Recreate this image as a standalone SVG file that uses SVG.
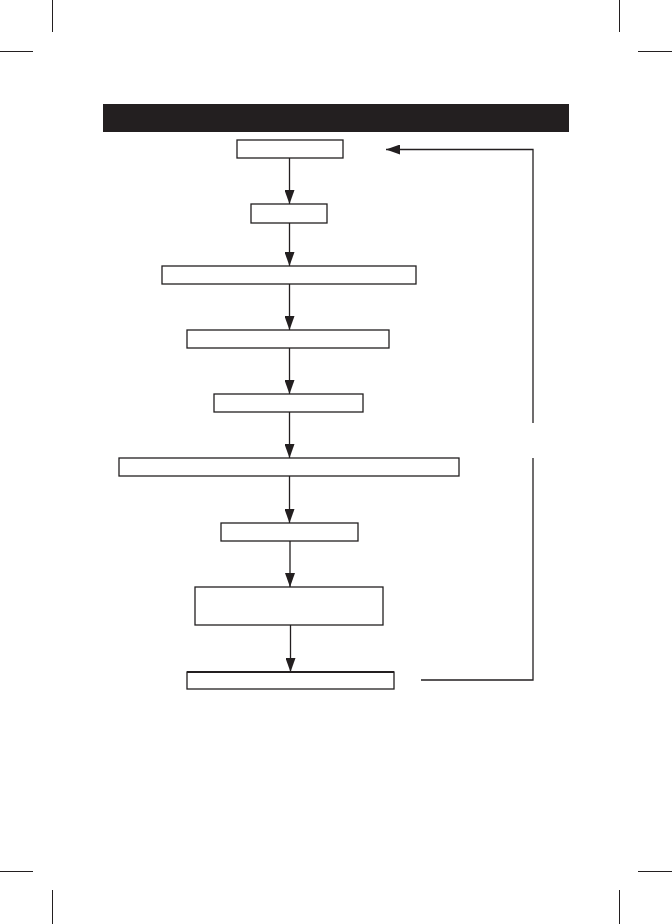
<svg xmlns="http://www.w3.org/2000/svg" width="672" height="924" viewBox="0 0 672 924">
<style>
.box{fill:#fff;stroke:#231f20;stroke-width:1.3}
.ln{fill:none;stroke:#231f20;stroke-width:1.3}
.crop{stroke:#231f20;stroke-width:1}
</style>
<defs>
<marker id="ah" markerUnits="userSpaceOnUse" markerWidth="14" markerHeight="10" refX="14" refY="5" orient="auto">
<path d="M0,0 L14,5 L0,10 Z" fill="#231f20"/>
</marker>
</defs>
<rect width="672" height="924" fill="#fff"/>
<g id="cropmarks">
<line class="crop" x1="52.5" y1="0" x2="52.5" y2="32"/>
<line class="crop" x1="0" y1="51.5" x2="33" y2="51.5"/>
<line class="crop" x1="619.5" y1="0" x2="619.5" y2="32"/>
<line class="crop" x1="638" y1="51.5" x2="672" y2="51.5"/>
<line class="crop" x1="52.5" y1="890" x2="52.5" y2="924"/>
<line class="crop" x1="0" y1="871.5" x2="33" y2="871.5"/>
<line class="crop" x1="619.5" y1="890" x2="619.5" y2="924"/>
<line class="crop" x1="638" y1="871.5" x2="672" y2="871.5"/>
</g>
<g id="header"><rect x="103" y="104" width="466" height="28" fill="#231f20"/></g>
<g id="connectors">
<line class="ln" x1="289.5" y1="158" x2="289.5" y2="204" marker-end="url(#ah)"/>
<line class="ln" x1="289.5" y1="223" x2="289.5" y2="266" marker-end="url(#ah)"/>
<line class="ln" x1="289.5" y1="284" x2="289.5" y2="330" marker-end="url(#ah)"/>
<line class="ln" x1="289.5" y1="348" x2="289.5" y2="394" marker-end="url(#ah)"/>
<line class="ln" x1="289.5" y1="412" x2="289.5" y2="458" marker-end="url(#ah)"/>
<line class="ln" x1="289.5" y1="476" x2="289.5" y2="523" marker-end="url(#ah)"/>
<line class="ln" x1="290" y1="541" x2="290" y2="587" stroke-width="2.4" marker-end="url(#ah)"/>
<line class="ln" x1="290.5" y1="625" x2="290.5" y2="672" marker-end="url(#ah)"/>
<polyline class="ln" points="533,423 533,149.5 386,149.5" marker-end="url(#ah)"/>
<polyline class="ln" points="533,458 533,680 421,680"/>
</g>
<g id="n1"><rect class="box" x="237" y="140" width="106" height="18"/></g>
<g id="n2"><rect class="box" x="251" y="204" width="76" height="19"/></g>
<g id="n3"><rect class="box" x="162" y="266" width="254" height="18"/></g>
<g id="n4"><rect class="box" x="187" y="330" width="202" height="18"/></g>
<g id="n5"><rect class="box" x="214" y="394" width="149" height="18"/></g>
<g id="n6"><rect class="box" x="119" y="458" width="340" height="18"/></g>
<g id="n7"><rect class="box" x="221" y="523" width="137" height="18"/></g>
<g id="n8"><rect class="box" x="195" y="587" width="188" height="38"/></g>
<g id="n9"><rect class="box" x="187" y="672" width="207" height="17"/><line x1="187" y1="672" x2="394" y2="672" stroke="#231f20" stroke-width="2.2"/></g>
</svg>
